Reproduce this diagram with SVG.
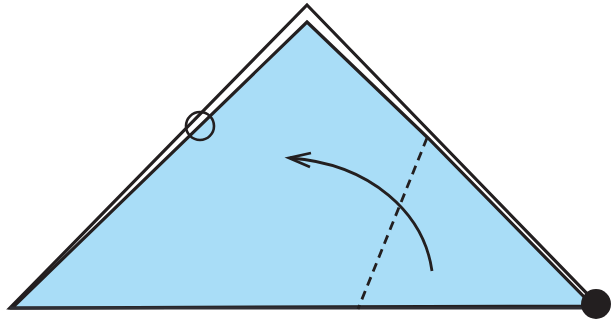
<svg xmlns="http://www.w3.org/2000/svg" width="614" height="323" viewBox="0 0 614 323">
<style>
.edge{stroke:#231f20;stroke-width:3.2;stroke-linejoin:miter}
.ln{stroke:#231f20;stroke-width:2.8;fill:none;stroke-linecap:butt}
</style>
<rect width="614" height="323" fill="#ffffff"/>
<g id="back-layer">
<polygon points="307,5 599,306 10,308" fill="#ffffff" class="edge"/>
</g>
<g id="front-layer">
<polygon points="307,22 428,138 593,306 12,308" fill="#a9ddf7" class="edge"/>
<line x1="10" y1="308" x2="596" y2="308" stroke="#2f2f35" stroke-width="3.2"/>
</g>
<g id="connectors">
<line id="fold-line" x1="427" y1="138" x2="358" y2="309" class="ln" stroke-dasharray="9,6"/>
<path id="turn-arrow" d="M432,271 C424,214 372,164 290,158" class="ln"/>
<polyline points="311,153 289,158 310,167" class="ln" stroke-linejoin="miter"/>
</g>
<g id="circle-mark">
<circle cx="200" cy="126" r="14" fill="none" stroke="#231f20" stroke-width="2.6"/>
</g>
<g id="dot-mark">
<circle cx="596" cy="304" r="15" fill="#231f20"/>
</g>
</svg>
